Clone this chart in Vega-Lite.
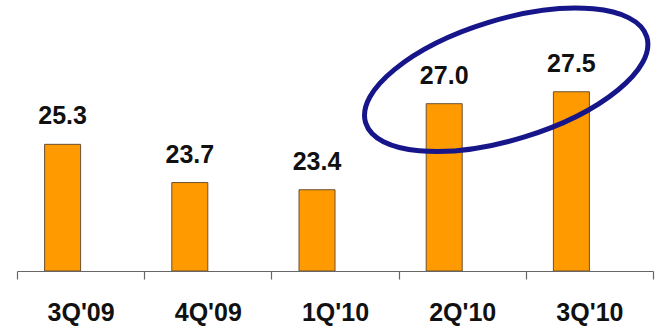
{
  "$schema": "https://vega.github.io/schema/vega-lite/v6.json",
  "width": 636,
  "height": 239,
  "autosize": {"type": "none"},
  "padding": {"left": 17, "top": 32, "right": 2, "bottom": 56},
  "background": "white",
  "config": {
    "view": {"stroke": null},
    "font": "Liberation Sans"
  },
  "datasets": {
    "quarters": [
      {"quarter": "3Q'09", "value": 25.3},
      {"quarter": "4Q'09", "value": 23.7},
      {"quarter": "1Q'10", "value": 23.4},
      {"quarter": "2Q'10", "value": 27.0},
      {"quarter": "3Q'10", "value": 27.5}
    ],
    "highlight": [
      {"quarter": "2Q'10", "level": 28.0}
    ]
  },
  "layer": [
    {
      "data": {"name": "quarters"},
      "mark": {"type": "bar", "width": 36, "xOffset": -18, "color": "#FF9A00", "stroke": "#6a5030", "strokeWidth": 1},
      "encoding": {
        "x": {
          "field": "quarter", "type": "nominal", "sort": null,
          "scale": {"paddingInner": 0, "paddingOuter": 0},
          "axis": {
            "title": null,
            "labelAngle": 0,
            "labelFont": "Liberation Sans",
            "labelFontWeight": "bold",
            "labelFontSize": 25,
            "labelColor": "#111111",
            "labelPadding": 21,
            "domainColor": "#666666",
            "domainWidth": 1.2,
            "tickColor": "#666666",
            "tickSize": 8,
            "tickWidth": 1.2,
            "tickBand": "extent",
            "zindex": 1
          }
        },
        "y": {
          "field": "value", "type": "quantitative",
          "scale": {"domain": [20, 30], "zero": false, "nice": false},
          "axis": null
        },
        "y2": {"datum": 20}
      }
    },
    {
      "data": {"name": "quarters"},
      "mark": {"type": "text", "xOffset": -18, "dy": -20, "baseline": "alphabetic", "font": "Liberation Sans", "fontWeight": "bold", "fontSize": 25, "color": "#111111"},
      "encoding": {
        "x": {"field": "quarter", "type": "nominal", "sort": null},
        "y": {"field": "value", "type": "quantitative"},
        "text": {"field": "value", "type": "quantitative", "format": ".1f"}
      }
    },
    {
      "data": {"name": "highlight"},
      "mark": {
        "type": "point",
        "filled": false,
        "xOffset": 44,
        "size": 40000,
        "stroke": "#16168a",
        "strokeWidth": 5,
        "opacity": 1,
        "shape": "M1.4058,-0.4298 C1.5027,-0.1129 0.9518,0.3364 0.1754,0.5738 C-0.6010,0.8112 -1.3089,0.7467 -1.4058,0.4298 C-1.5027,0.1129 -0.9518,-0.3364 -0.1754,-0.5738 C0.6010,-0.8112 1.3089,-0.7467 1.4058,-0.4298 Z"
      },
      "encoding": {
        "x": {"field": "quarter", "type": "nominal", "sort": null},
        "y": {"field": "level", "type": "quantitative"}
      }
    }
  ]
}
